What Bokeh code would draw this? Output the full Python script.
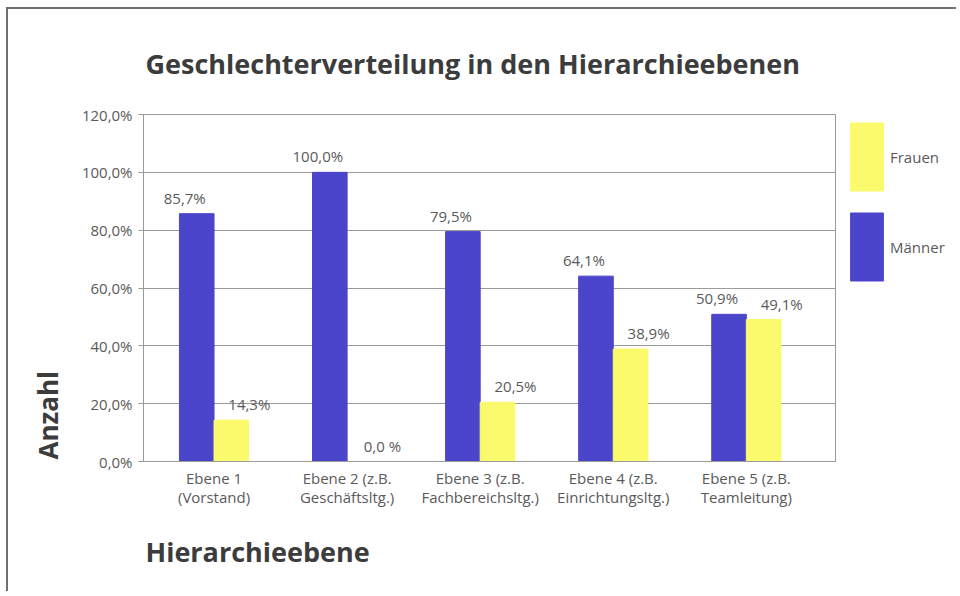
from bokeh.plotting import figure
from bokeh.layouts import row
from bokeh.models import Range1d, ColumnDataSource, Legend, LegendItem, Title, FixedTicker
from bokeh.core.properties import value
from bokeh.embed import file_html
from bokeh.resources import INLINE

# ---- data ----
categories = [
    "Ebene 1\n(Vorstand)",
    "Ebene 2 (z.B.\nGeschäftsltg.)",
    "Ebene 3 (z.B.\nFachbereichsltg.)",
    "Ebene 4 (z.B.\nEinrichtungsltg.)",
    "Ebene 5 (z.B.\nTeamleitung)",
]
maenner = [85.7, 100.0, 79.5, 64.1, 50.9]
frauen = [14.3, 0.0, 20.5, 38.9, 49.1]
y_ticks = [0, 20, 40, 60, 80, 100, 120]
series_names = ["Frauen", "Männer"]

title_text = "Geschlechterverteilung in den Hierarchieebenen"
x_title = "Hierarchieebene"
y_title = "Anzahl"

BLUE = "#4B45CB"
YELLOW = "#FAFA6C"
TXT = "#5a5a5a"
HEAD = "#3c3c3c"
FONT = "Open Sans"
GRID = "#9a9a9a"

def fmt(v):
    s = f"{v:.1f}".replace(".", ",")
    return s + (" %" if v == 0 else "%")

centers = [i + 0.5 for i in range(len(categories))]
off = 0.13
src_m = ColumnDataSource(dict(x=[c - off for c in centers], top=maenner, lab=[fmt(v) for v in maenner]))
src_f = ColumnDataSource(dict(x=[c + off for c in centers], top=frauen, lab=[fmt(v) for v in frauen]))

p = figure(width=838, height=582, x_range=Range1d(-0.03, 5.17), y_range=Range1d(0, 120),
           output_backend="svg", toolbar_location=None,
           min_border_left=135, min_border_right=11, min_border_top=104, min_border_bottom=130)
p.outline_line_color = GRID
p.background_fill_color = "white"
p.border_fill_color = "white"

rm = p.vbar(x="x", top="top", width=0.26, source=src_m, color=BLUE)
rf = p.vbar(x="x", top="top", width=0.26, source=src_f, color=YELLOW)

p.text(x="x", y="top", text="lab", source=src_m, x_offset=-12, y_offset=-6,
       text_align="center", text_baseline="bottom", text_font=value(FONT),
       text_font_size="15px", text_color=TXT)
p.text(x="x", y="top", text="lab", source=src_f, x_offset=18, y_offset=-6,
       text_align="center", text_baseline="bottom", text_font=value(FONT),
       text_font_size="15px", text_color=TXT)

# axes
p.yaxis.ticker = FixedTicker(ticks=y_ticks)
p.yaxis.major_label_overrides = {t: fmt(t).replace(" %", "%") for t in y_ticks}
p.yaxis.major_label_text_font = FONT
p.yaxis.major_label_text_font_size = "15px"
p.yaxis.major_label_text_color = TXT
p.yaxis.axis_line_color = GRID
p.yaxis.major_tick_line_color = GRID
p.yaxis.major_tick_in = 0
p.yaxis.major_tick_out = 5
p.yaxis.minor_tick_line_color = None
p.yaxis.major_label_standoff = 6

p.xaxis.ticker = FixedTicker(ticks=centers)
p.xaxis.major_label_overrides = {c: lab for c, lab in zip(centers, categories)}
p.xaxis.major_label_text_font = FONT
p.xaxis.major_label_text_font_size = "15px"
p.xaxis.major_label_text_line_height = 0.95
p.xaxis.major_label_text_color = TXT
p.xaxis.axis_line_color = GRID
p.xaxis.major_tick_line_color = None
p.xaxis.minor_tick_line_color = None
p.xaxis.major_label_standoff = 0

p.xgrid.grid_line_color = None
p.ygrid.grid_line_color = GRID
p.ygrid.grid_line_width = 1

# titles
p.title.text = title_text
p.title.align = "left"
p.title.text_font = FONT
p.title.text_font_style = "bold"
p.title.text_font_size = "27px"
p.title.text_color = HEAD
p.title.standoff = 66
p.title.offset = 2

p.add_layout(Title(text=x_title, align="left", text_font=FONT, text_font_style="bold",
                   text_font_size="27px", text_color=HEAD, standoff=42, offset=2), "below")
p.add_layout(Title(text=y_title, align="left", text_font=FONT, text_font_style="bold",
                   text_font_size="26px", text_color=HEAD, standoff=25, offset=2), "left")

# legend panel: a separate small figure whose view range shows none of the bars,
# so only the legend swatches and labels appear next to the plot box
q = figure(width=110, height=582, output_backend="svg", toolbar_location=None,
           x_axis_location=None, y_axis_location=None,
           min_border_left=0, min_border_right=0, min_border_bottom=0, min_border_top=57,
           x_range=Range1d(-3, -2), y_range=Range1d(0, 1))
q.outline_line_color = None
q.grid.grid_line_color = None
q.border_fill_color = "white"
q.background_fill_color = "white"
lf = q.vbar(x="x", top="top", width=0.26, source=src_f, color=YELLOW)
lm = q.vbar(x="x", top="top", width=0.26, source=src_m, color=BLUE)
legend = Legend(items=[LegendItem(label=series_names[0], renderers=[lf]),
                       LegendItem(label=series_names[1], renderers=[lm])],
                location="top_left", glyph_width=41, glyph_height=85, spacing=5,
                padding=0, margin=0, label_standoff=3,
                label_text_font=FONT, label_text_font_size="15px", label_text_color=TXT,
                border_line_color=None, background_fill_alpha=0)
q.add_layout(legend, "center")

layout = row(p, q, styles={"border-top": "2px solid #707070", "border-left": "2px solid #707070",
                           "margin-top": "7px", "margin-left": "6px"})
open("out.html", "w").write(file_html(layout, INLINE))
